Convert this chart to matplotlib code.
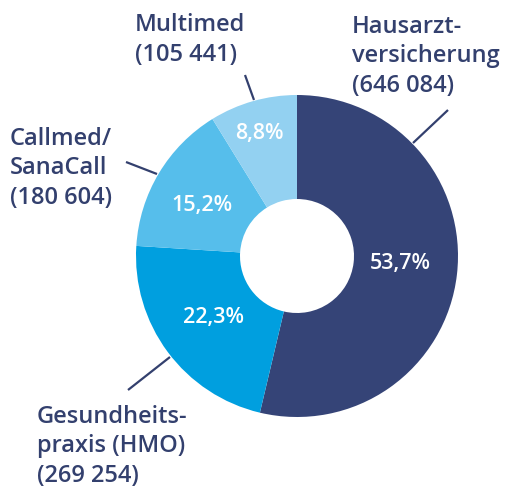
import matplotlib
matplotlib.use("Agg")
import matplotlib.pyplot as plt

categories = ["Hausarzt-\nversicherung\n(646 084)", "Gesundheits-\npraxis (HMO)\n(269 254)",
              "Callmed/\nSanaCall\n(180 604)", "Multimed\n(105 441)"]
shares = [53.7, 22.3, 15.2, 8.8]
pct_labels = ["53,7%", "22,3%", "15,2%", "8,8%"]
colors = ["#354477", "#009FDF", "#56BEEB", "#93D1F1"]
navy = "#33406E"

W, H = 507, 488
fig = plt.figure(figsize=(W / 100, H / 100), dpi=100)
ax = fig.add_axes([0, 0, 1, 1])

cx, cy = 297, H - 256
R, r = 161, 57
ax.pie(shares, colors=colors, startangle=90, counterclock=False,
       center=(cx, cy), radius=R, frame=True,
       wedgeprops=dict(width=R - r, linewidth=0))
ax.set_xlim(0, W)
ax.set_ylim(0, H)
ax.axis("off")

fam = ["Open Sans", "DejaVu Sans"]

# percentage labels (pixel positions)
pct_pos = [(400, 263), (213, 318), (202, 205), (259, 133)]
for t, (px, py) in zip(pct_labels, pct_pos):
    ax.text(px, H - py, t, color="white", ha="center", va="center",
            family=fam, fontsize=15.5, fontweight="semibold")

# category labels: left x, baseline y of last line
cat_pos = [(352, 92), (37, 482), (10, 204), (135, 61)]
for t, (px, py) in zip(categories, cat_pos):
    ax.text(px, H - py, t, color=navy, ha="left", va="baseline", linespacing=1.31,
            family=fam, fontsize=17, fontweight="semibold")

# leader lines
leaders = [((448, 110), (413, 143)), ((128, 390), (170, 357)),
           ((126, 162), (157, 174)), ((245, 75), (254, 100))]
for (x0, y0), (x1, y1) in leaders:
    ax.plot([x0, x1], [H - y0, H - y1], color=navy, lw=1.6, solid_capstyle="butt")

fig.savefig("out.png", dpi=100)
